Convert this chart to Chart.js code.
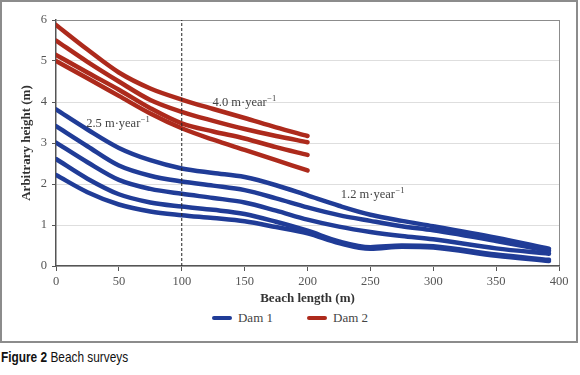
<!DOCTYPE html>
<html>
<head>
<meta charset="utf-8">
<script src="https://cdn.jsdelivr.net/npm/chart.js@4/dist/chart.umd.min.js"></script>
<style>
  body { margin: 0; background: #fff; width: 580px; height: 375px; position: relative; overflow: hidden; }
  #frame { position: absolute; left: 0; top: 0; width: 578px; height: 343px; box-sizing: border-box; border: 2px solid #8c8c8c; }
  #wrap { position: absolute; left: 2px; top: 2px; width: 574px; height: 306px; }
  #legend { position: absolute; left: 0; top: 309px; width: 580px; height: 18px; display: flex; justify-content: center; align-items: center;
            font: 13px 'Liberation Serif', 'DejaVu Serif', serif; color: #444; }
  #legend .item { display: flex; align-items: center; margin: 0 17px; }
  #legend .sw { width: 20px; height: 4px; border-radius: 2px; margin-right: 6px; }
  #caption { position: absolute; left: 1px; top: 348px; font: 15px 'Liberation Sans', Arial, sans-serif; color: #111;
             white-space: nowrap; transform: scaleX(0.79); transform-origin: 0 0; }
</style>
</head>
<body>
<div id="frame"></div>
<div id="wrap"><canvas id="beach-chart" width="574" height="306"></canvas></div>
<div id="legend"></div>
<div id="caption"><b>Figure 2</b> Beach surveys</div>
<script>
// beach length positions (m)
const dam1X = [0, 25, 50, 75, 100, 125, 150, 175, 200, 225, 250, 275, 300, 350, 392];
const dam2X = [0, 25, 50, 75, 100, 125, 150, 175, 200];

// Dam 1 surveys (m)
const dam1A = [3.82, 3.33, 2.88, 2.58, 2.38, 2.27, 2.17, 1.97, 1.72, 1.47, 1.25, 1.10, 0.97, 0.69, 0.42];
const dam1B = [3.41, 2.92, 2.45, 2.20, 2.06, 1.96, 1.85, 1.65, 1.43, 1.24, 1.10, 0.97, 0.87, 0.61, 0.37];
const dam1C = [3.01, 2.53, 2.10, 1.88, 1.76, 1.66, 1.55, 1.35, 1.13, 0.96, 0.83, 0.73, 0.65, 0.43, 0.30];
const dam1D = [2.61, 2.13, 1.75, 1.55, 1.45, 1.37, 1.27, 1.08, 0.86, 0.60, 0.46, 0.50, 0.48, 0.28, 0.15];
const dam1E = [2.22, 1.80, 1.50, 1.33, 1.24, 1.17, 1.09, 0.95, 0.80, 0.56, 0.42, 0.47, 0.45, 0.25, 0.12];

// Dam 2 surveys (m)
const dam2A = [5.88, 5.28, 4.72, 4.33, 4.06, 3.83, 3.61, 3.38, 3.17];
const dam2B = [5.50, 4.98, 4.50, 4.05, 3.76, 3.54, 3.34, 3.17, 3.02];
const dam2C = [5.15, 4.72, 4.30, 3.85, 3.48, 3.28, 3.11, 2.90, 2.71];
const dam2D = [5.00, 4.58, 4.15, 3.72, 3.36, 3.08, 2.83, 2.58, 2.33];

// reference line at 100 m
const markerX = [100, 100];
const markerY = [0, 6];

const xTicks = [0, 50, 100, 150, 200, 250, 300, 350, 400];
const yTicks = [0, 1, 2, 3, 4, 5, 6];

const SERIF = "'Liberation Serif', 'DejaVu Serif', serif";
const BLUE = '#203c97';
const RED = '#ad2a1c';

const toPoints = (xs, ys) => xs.map((x, i) => ({ x, y: ys[i] }));

function surveyLine(label, xs, ys, color) {
  return {
    label,
    data: toPoints(xs, ys),
    borderColor: color,
    backgroundColor: color,
    borderWidth: 4.5,
    borderCapStyle: 'round',
    borderJoinStyle: 'round',
    cubicInterpolationMode: 'monotone',
    pointRadius: 0,
    fill: false
  };
}

// 速率标注 m·year⁻¹
const rateLabels = {
  id: 'rateLabels',
  afterDatasetsDraw(chart) {
    const { ctx, scales: { x, y } } = chart;
    const rates = [
      { text: '2.5 m\u00b7year', x: 24, y: 3.46 },
      { text: '4.0 m\u00b7year', x: 124.5, y: 3.98 },
      { text: '1.2 m\u00b7year', x: 226.5, y: 1.74 }
    ];
    ctx.save();
    ctx.fillStyle = '#444';
    ctx.textBaseline = 'middle';
    ctx.textAlign = 'left';
    rates.forEach(r => {
      const px = x.getPixelForValue(r.x);
      const py = y.getPixelForValue(r.y);
      ctx.font = '12.5px ' + SERIF;
      ctx.fillText(r.text, px, py);
      const w = ctx.measureText(r.text).width;
      ctx.font = '8.5px ' + SERIF;
      ctx.fillText('\u22121', px + w + 0.5, py - 4);
    });
    ctx.restore();
  }
};

const ctxBeach = document.getElementById('beach-chart');
const beachChart = new Chart(ctxBeach.getContext('2d'), {
  type: 'line',
  data: {
    datasets: [
      {
        label: '',
        data: toPoints(markerX, markerY),
        borderColor: '#222',
        borderWidth: 1,
        borderDash: [3, 2],
        pointRadius: 0,
        fill: false
      },
      surveyLine('Dam 1', dam1X, dam1A, BLUE),
      surveyLine('Dam 1', dam1X, dam1B, BLUE),
      surveyLine('Dam 1', dam1X, dam1C, BLUE),
      surveyLine('Dam 1', dam1X, dam1D, BLUE),
      surveyLine('Dam 1', dam1X, dam1E, BLUE),
      surveyLine('Dam 2', dam2X, dam2A, RED),
      surveyLine('Dam 2', dam2X, dam2B, RED),
      surveyLine('Dam 2', dam2X, dam2C, RED),
      surveyLine('Dam 2', dam2X, dam2D, RED)
    ]
  },
  options: {
    responsive: false,
    animation: false,
    layout: { padding: { left: 0, right: 17, top: 18, bottom: 0 } },
    plugins: {
      legend: { display: false },
      tooltip: { enabled: false }
    },
    scales: {
      x: {
        type: 'linear',
        min: 0,
        max: 400,
        afterBuildTicks: s => { s.ticks = xTicks.map(v => ({ value: v })); },
        afterFit: s => { s.height = 42; },
        ticks: { color: '#555', font: { family: SERIF, size: 12.5 }, padding: 3, maxRotation: 0 },
        grid: {
          color: c => (c.tick && c.tick.value === 400) ? '#8c8c8c' : 'rgba(0,0,0,0)',
          tickColor: '#555',
          tickLength: 5
        },
        border: { color: '#555', width: 1.5 },
        title: {
          display: true,
          text: 'Beach length (m)',
          color: '#333',
          font: { family: SERIF, size: 13, weight: 'bold' },
          padding: { top: 0, bottom: 2 }
        }
      },
      y: {
        min: 0,
        max: 6,
        afterBuildTicks: s => { s.ticks = yTicks.map(v => ({ value: v })); },
        afterFit: s => { s.width = 54; },
        ticks: { color: '#555', font: { family: SERIF, size: 12.5 }, padding: 5 },
        grid: {
          color: c => (c.tick && c.tick.value === 6) ? '#8c8c8c' : '#dedede',
          tickColor: '#555',
          tickLength: 4
        },
        border: { color: '#555', width: 1.5 },
        title: {
          display: true,
          text: 'Arbitrary height (m)',
          color: '#333',
          font: { family: SERIF, size: 13, weight: 'bold' },
          padding: { top: 17, bottom: 0 }
        }
      }
    }
  },
  plugins: [rateLabels]
});

// HTML 图例：每个 Dam 只显示一次
const legendEl = document.getElementById('legend');
const seen = new Set();
beachChart.data.datasets.forEach(ds => {
  if (!ds.label || seen.has(ds.label)) return;
  seen.add(ds.label);
  const item = document.createElement('div');
  item.className = 'item';
  const sw = document.createElement('span');
  sw.className = 'sw';
  sw.style.background = ds.borderColor;
  const txt = document.createElement('span');
  txt.textContent = ds.label;
  item.appendChild(sw);
  item.appendChild(txt);
  legendEl.appendChild(item);
});
</script>
</body>
</html>
